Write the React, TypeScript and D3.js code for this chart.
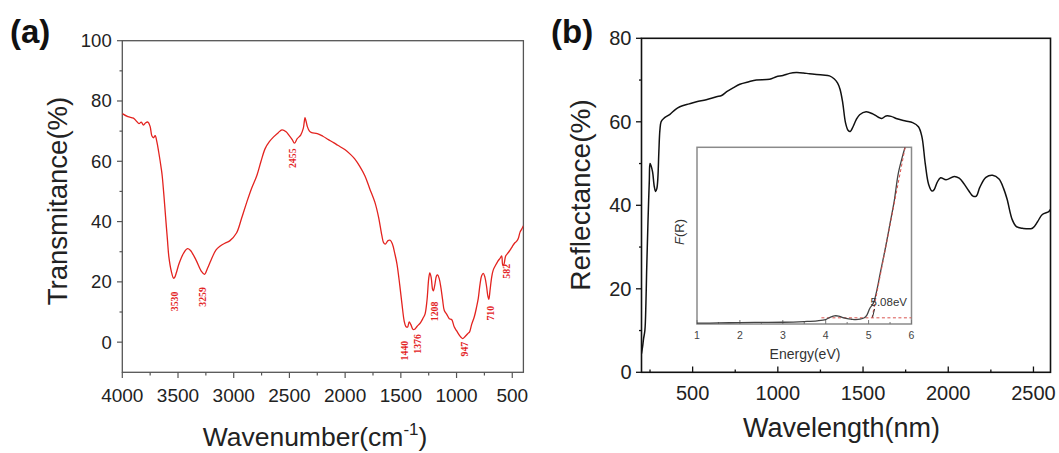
import React from "react";
import * as d3 from "d3";

// ---------- Panel (a): FTIR ----------
const ftirWave = [4000,3950,3900,3870,3850,3830,3810,3790,3770,3750,3735,3720,3705,3690,3673,3650,3642,3625,3612,3595,3582,3560,3540,3530,3515,3491,3450,3415,3390,3339,3290,3262,3235,3204,3160,3127,3080,3036,2975,2930,2884,2840,2793,2755,2718,2680,2642,2600,2567,2530,2505,2475,2455,2430,2399,2375,2360,2350,2339,2320,2300,2250,2200,2150,2100,2066,2000,1950,1914,1870,1823,1780,1732,1700,1671,1655,1640,1615,1595,1575,1555,1535,1510,1490,1470,1455,1440,1425,1410,1390,1376,1355,1323,1300,1283,1265,1250,1240,1228,1215,1208,1195,1180,1170,1155,1140,1125,1110,1089,1065,1044,1020,1000,980,960,945,925,900,883,865,840,821,805,790,775,760,745,730,720,710,700,685,671,650,630,610,595,585,575,560,540,520,500,480,460,445,430,415,400];
const ftirT = [75.8,74.8,74.3,73.2,72.5,73.0,72.0,72.8,73.0,71.5,68.5,67.8,68.5,66.5,63,57.5,55.2,48,41.8,34,28.3,23.5,21.2,21.5,23,26,29.5,31,30.5,27.3,23.5,22.5,24.5,27.2,30.5,31.7,32.8,33.6,36.2,41,46.3,51,55.2,60,64.2,66.5,68.1,69.5,70.4,69.8,68.7,67.2,66.0,67.5,68.7,71,74.5,73.2,71.5,70,69.5,69.2,68.3,67.2,66.1,65.3,63.8,62.2,60.8,58.4,55.2,51,46.3,41.5,35.5,33.0,32.5,33.7,33.8,32.5,29.5,26,19,12.7,7,5.2,5.0,6.7,5.8,4.2,4.3,5.2,6.5,8.0,9.3,14,21,23,21.5,17.5,17.0,19,22,22.3,21,18,14,10.5,9.3,7.8,7.5,5,3.8,2.6,1.6,1.2,1.8,2.8,3.4,5.8,8.5,11.5,14.5,19,22,22.8,21.5,18.3,15.5,14.2,17,21.5,23.9,25.5,26.8,27.8,28.6,25.5,25.8,28.5,29.5,30.5,31.7,32.8,33.5,34.5,36.5,37.5,38.6];
const ftirXTicks = [4000,3500,3000,2500,2000,1500,1000,500];
const ftirYTicks = [0,20,40,60,80,100];
const peakLabels = ["3530","3259","2455","1440","1376","1208","947","710","582"];
const peakLabelWave = [3534,3278,2471,1462,1346,1194,925,691,550];
const peakLabelT = [13.5,15,61,-2.8,-0.6,10.2,-2.3,9.6,23.5];

// ---------- Panel (b): reflectance ----------
const reflWl = [200,206,212,220,226,230,234,238,242,246,250,256,265,275,283,290,296,302,308,315,330,367,400,425,480,523,580,640,670,700,740,777,830,874,952,991,1030,1069,1108,1150,1186,1264,1303,1330,1350,1365,1381,1397,1412,1425,1440,1460,1480,1518,1557,1590,1610,1635,1665,1694,1750,1791,1825,1845,1865,1885,1905,1918,1935,1955,1987,2035,2064,2090,2120,2145,2165,2185,2221,2260,2298,2325,2345,2376,2400,2435,2494,2523,2552,2590,2600];
const reflR = [4.5,6,8,10.1,16.6,24,30,36,41.3,46,50,49.5,48,44.5,43.3,44,46.5,53,58,60,60.8,61.8,63,63.6,64.3,64.8,65.3,66,66.3,67.2,68.2,69,69.6,70,70.2,70.8,71.1,71.6,71.8,71.7,71.5,71.2,71,70.3,69.3,67.8,64.5,59.8,58,57.7,58.7,60.5,61.7,62.4,61.9,61.1,60.8,61.4,61.3,60.8,60.2,59.8,58.8,56.5,50,45,43.4,43.8,45.5,46.6,46.1,46.9,46.5,45.3,43.5,42.2,42.2,44.3,46.7,47.2,46.3,44,41.5,36.5,34.9,34.5,34.5,36,37.8,38.5,39];
const reflXTicks = [500,1000,1500,2000,2500];
const reflYTicks = [0,20,40,60,80];

// ---------- Inset: F(R) vs energy ----------
const insetE = [1,1.5,2,2.5,3,3.5,3.8,4.0,4.1,4.2,4.3,4.4,4.5,4.6,4.7,4.8,4.9,4.96,5.03,5.11,5.2,5.27,5.4,5.5,5.6,5.69,5.78,5.85];
const insetF = [0.5,0.6,0.8,0.9,1.0,1.4,1.8,2.5,3.8,4.6,4.5,3.6,3.0,2.7,2.5,2.7,3.5,5,8.9,11.7,20,28.6,44,56.9,70,85,94,100];
const tangentE = [5.08,5.86];
const tangentF = [3.5,101];
const baseE = [3.9,6.0];
const baseF = [3.5,3.5];
const insetTicks = [1,2,3,4,5,6];
const gapLabel = "5.08eV";

const SANS = "'Liberation Sans', Arial, sans-serif";
const SERIF = "'Liberation Serif', 'Times New Roman', serif";

export default function App() {
  const xa = d3.scaleLinear().domain([4000, 400]).range([122.3, 523.4]);
  const ya = d3.scaleLinear().domain([-10, 100]).range([372.3, 40.7]);
  const xb = d3.scaleLinear().domain([200, 2600]).range([641.5, 1050.5]);
  const yb = d3.scaleLinear().domain([0, 80]).range([372.3, 38.3]);
  const xi = d3.scaleLinear().domain([1, 6]).range([697, 911.5]);
  const yi = d3.scaleLinear().domain([0, 100]).range([324, 147.3]);

  const lineA = d3.line<number>().x((_, i) => xa(ftirWave[i])).y((d) => ya(d)).curve(d3.curveCatmullRom.alpha(0.5));
  const lineB = d3.line<number>().x((_, i) => xb(reflWl[i])).y((d) => yb(d)).curve(d3.curveCatmullRom.alpha(0.5));
  const lineI = d3.line<number>().x((_, i) => xi(insetE[i])).y((d) => yi(d)).curve(d3.curveCatmullRom.alpha(0.5));
  const lineTan = d3.line<number>().x((_, i) => xi(tangentE[i])).y((d) => yi(d));
  const lineBase = d3.line<number>().x((_, i) => xi(baseE[i])).y((d) => yi(d));

  const aMinorX = d3.range(3750, 400, -500);
  const aMinorY = d3.range(-10, 100, 20).filter((v) => v > -10);
  const bMinorX = d3.range(250, 2600, 500);
  const bMinorY = d3.range(10, 80, 20);
  const iMinor = d3.range(1.5, 6, 1);

  const axisA = "#555";
  return (
    <svg width={1059} height={453} style={{ position: "absolute", left: 0, top: 0, background: "#fff" }}>
      <defs>
        <clipPath id="clipA"><rect x={122.3} y={40.7} width={523.4 - 122.3} height={372.3 - 40.7} /></clipPath>
        <clipPath id="clipB"><rect x={641.5} y={38.3} width={1050.5 - 641.5} height={372.3 - 38.3} /></clipPath>
        <clipPath id="clipI"><rect x={697} y={147.3} width={911.5 - 697} height={324 - 147.3} /></clipPath>
      </defs>

      {/* ---------------- Panel (a) ---------------- */}
      <text x={10} y={43} fontFamily={SANS} fontWeight="bold" fontSize={33} fill="#111">(a)</text>
      <rect x={122.3} y={40.7} width={523.4 - 122.3} height={372.3 - 40.7} fill="none" stroke={axisA} strokeWidth={1.3} />
      {ftirYTicks.map((t) => (
        <g key={"ay" + t}>
          <line x1={117} x2={122.3} y1={ya(t)} y2={ya(t)} stroke={axisA} strokeWidth={1.2} />
          <text x={111.7} y={ya(t) + 6.5} textAnchor="end" fontFamily={SANS} fontSize={18.5} fill="#222">{t}</text>
        </g>
      ))}
      {aMinorY.map((t) => (
        <line key={"aym" + t} x1={119.5} x2={122.3} y1={ya(t)} y2={ya(t)} stroke={axisA} strokeWidth={1.2} />
      ))}
      {ftirXTicks.map((t) => (
        <g key={"ax" + t}>
          <line x1={xa(t)} x2={xa(t)} y1={372.3} y2={378} stroke={axisA} strokeWidth={1.2} />
          <text x={xa(t)} y={402} textAnchor="middle" fontFamily={SANS} fontSize={19} fill="#222">{t}</text>
        </g>
      ))}
      {aMinorX.map((t) => (
        <line key={"axm" + t} x1={xa(t)} x2={xa(t)} y1={372.3} y2={375.5} stroke={axisA} strokeWidth={1.2} />
      ))}
      <path d={lineA(ftirT) || ""} fill="none" stroke="#e3231f" strokeWidth={1.3} clipPath="url(#clipA)" />
      {peakLabels.map((l, i) => {
        const x = xa(peakLabelWave[i]);
        const y = ya(peakLabelT[i]);
        return (
          <text key={"pk" + l} x={0} y={0} transform={`translate(${x + 3.3},${y}) rotate(-90)`} textAnchor="middle"
            fontFamily={SERIF} fontSize={9.8} fontWeight="bold" fill="#e3231f">{l}</text>
        );
      })}
      <text transform="translate(67,201) rotate(-90)" textAnchor="middle" fontFamily={SANS} fontSize={27.5} fill="#222">Transmitance(%)</text>
      <text x={315} y={446} textAnchor="middle" fontFamily={SANS} fontSize={26.5} fill="#222">
        Wavenumber(cm<tspan fontSize={17} dy={-11}>-1</tspan><tspan dy={11}>)</tspan>
      </text>

      {/* ---------------- Panel (b) ---------------- */}
      <text x={551} y={43} fontFamily={SANS} fontWeight="bold" fontSize={33} fill="#111">(b)</text>
      <rect x={641.5} y={38.3} width={1050.5 - 641.5} height={372.3 - 38.3} fill="none" stroke="#111" strokeWidth={1.6} />
      {reflYTicks.map((t) => (
        <g key={"by" + t}>
          <line x1={636} x2={641.5} y1={yb(t)} y2={yb(t)} stroke="#111" strokeWidth={1.3} />
          <text x={631.5} y={yb(t) + 7} textAnchor="end" fontFamily={SANS} fontSize={20} fill="#222">{t}</text>
        </g>
      ))}
      {bMinorY.map((t) => (
        <line key={"bym" + t} x1={639} x2={641.5} y1={yb(t)} y2={yb(t)} stroke="#111" strokeWidth={1.3} />
      ))}
      {reflXTicks.map((t) => (
        <g key={"bx" + t}>
          <line x1={xb(t)} x2={xb(t)} y1={372.3} y2={366.5} stroke="#111" strokeWidth={1.3} />
          <text x={xb(t)} y={400} textAnchor="middle" fontFamily={SANS} fontSize={20} fill="#222">{t}</text>
        </g>
      ))}
      {bMinorX.map((t) => (
        <line key={"bxm" + t} x1={xb(t)} x2={xb(t)} y1={372.3} y2={369.5} stroke="#111" strokeWidth={1.3} />
      ))}
      <path d={lineB(reflR) || ""} fill="none" stroke="#111" strokeWidth={1.5} clipPath="url(#clipB)" />
      <text transform="translate(590,195) rotate(-90)" textAnchor="middle" fontFamily={SANS} fontSize={28} fill="#222">Reflectance(%)</text>
      <text x={841.5} y={437} textAnchor="middle" fontFamily={SANS} fontSize={27} fill="#222">Wavelength(nm)</text>

      {/* ---------------- Inset ---------------- */}
      <rect x={697} y={147.3} width={911.5 - 697} height={324 - 147.3} fill="#fff" stroke="#8a8a8a" strokeWidth={1.5} />
      {insetTicks.map((t) => (
        <g key={"it" + t}>
          <line x1={xi(t)} x2={xi(t)} y1={324} y2={320} stroke="#777" strokeWidth={1} />
          <text x={xi(t)} y={338.5} textAnchor="middle" fontFamily={SANS} fontSize={10.5} fill="#444">{t}</text>
        </g>
      ))}
      {iMinor.map((t) => (
        <line key={"im" + t} x1={xi(t)} x2={xi(t)} y1={324} y2={322} stroke="#777" strokeWidth={1} />
      ))}
      <g clipPath="url(#clipI)">
        <path d={lineBase(baseF) || ""} fill="none" stroke="#d9534f" strokeWidth={1} strokeDasharray="3,2.5" />
        <path d={lineI(insetF) || ""} fill="none" stroke="#444" strokeWidth={1.3} />
        <path d={lineTan(tangentF) || ""} fill="none" stroke="#d9534f" strokeWidth={1} strokeDasharray="3,2.5" />
      </g>
      <line x1={xi(5.08) + 0.5} y1={yi(3.8)} x2={xi(5.14)} y2={yi(8.5)} stroke="#333" strokeWidth={1} />
      <text x={870.5} y={305.5} fontFamily={SANS} fontSize={11.5} fill="#333">{gapLabel}</text>
      <text x={805} y={359} textAnchor="middle" fontFamily={SANS} fontSize={14} fill="#333">Energy(eV)</text>
      <text transform="translate(684,232) rotate(-90)" textAnchor="middle" fontFamily={SANS} fontSize={13} fill="#333">
        <tspan fontStyle="italic">F</tspan>(R)
      </text>
    </svg>
  );
}
